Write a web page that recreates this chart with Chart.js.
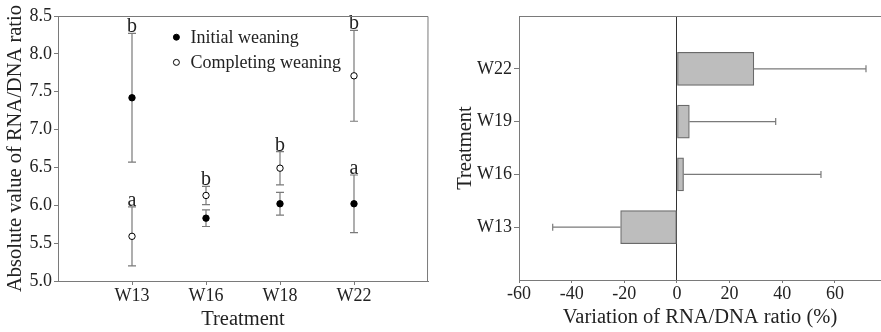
<!DOCTYPE html>
<html>
<head>
<meta charset="utf-8">
<script src="https://cdn.jsdelivr.net/npm/chart.js@4"></script>
<style>
body{margin:0;background:#fff;}
#wrap{position:relative;width:881px;height:332px;}
#graficoAbs{position:absolute;left:0;top:0;}
#graficoVar{position:absolute;left:440px;top:0;}
</style>
</head>
<body>
<div id="wrap">
<canvas id="graficoAbs" width="440" height="332"></canvas>
<canvas id="graficoVar" width="441" height="332"></canvas>
</div>
<script>
// left panel: absolute RNA/DNA ratio
const semanas = ['W13', 'W16', 'W18', 'W22'];
const inicial = [7.42, 5.83, 6.02, 6.02];
const inicialErr = [0.85, 0.11, 0.15, 0.38];
const completo = [5.59, 6.13, 6.49, 7.71];
const completoErr = [0.39, 0.12, 0.22, 0.60];
const letrasInicial = ['b', '', '', 'a'];
const letrasCompleto = ['a', 'b', 'b', 'b'];

// right panel: variation (%)
const semanasVar = ['W13', 'W16', 'W19', 'W22'];
const variacion = [-21.4, 2.5, 4.7, 29.2];
const variacionErr = [25.8, 52.2, 32.8, 42.6];
const ticksVar = [-60, -40, -20, 0, 20, 40, 60];

Chart.defaults.font.family = '"Liberation Serif", "Times New Roman", serif';
Chart.defaults.color = '#222';
Chart.defaults.animation = false;

const gris = '#7a7a7a';

const marco = {
    id: 'marco',
    afterDraw(chart, args, opts){
        const {ctx, chartArea: a} = chart;
        ctx.save();
        ctx.strokeStyle = gris;
        ctx.lineWidth = 1;
        ctx.beginPath();
        ctx.moveTo(a.left, a.top + 0.5);
        ctx.lineTo(a.right, a.top + 0.5);
        if (opts.derecha) {
            ctx.lineTo(a.right - 0.5, a.bottom);
        }
        ctx.stroke();
        ctx.restore();
    }
};

const barrasError = {
    id: 'barrasError',
    beforeDatasetsDraw(chart){
        const {ctx, scales:{x, y}} = chart;
        ctx.save();
        ctx.strokeStyle = gris;
        ctx.lineWidth = 1.2;
        chart.data.datasets.forEach(ds => {
            ds.data.forEach((p, i) => {
                const px = x.getPixelForValue(p.x);
                const arriba = y.getPixelForValue(p.y + ds.err[i]);
                const abajo = y.getPixelForValue(p.y - ds.err[i]);
                ctx.beginPath();
                ctx.moveTo(px, arriba); ctx.lineTo(px, abajo);
                ctx.moveTo(px - 4, arriba); ctx.lineTo(px + 4, arriba);
                ctx.moveTo(px - 4, abajo); ctx.lineTo(px + 4, abajo);
                ctx.stroke();
            });
        });
        ctx.restore();
    },
    afterDatasetsDraw(chart){
        const {ctx, scales:{x, y}} = chart;
        ctx.save();
        ctx.fillStyle = '#222';
        ctx.font = '20px "Liberation Serif", serif';
        ctx.textAlign = 'center';
        ctx.textBaseline = 'alphabetic';
        chart.data.datasets.forEach(ds => {
            ds.data.forEach((p, i) => {
                if (!ds.letras[i]) return;
                ctx.fillText(ds.letras[i], x.getPixelForValue(p.x), y.getPixelForValue(p.y + ds.err[i]) - 1);
            });
        });
        ctx.restore();
    }
};

const leyenda = {
    id: 'leyenda',
    afterDraw(chart){
        const {ctx, chartArea: a} = chart;
        ctx.save();
        ctx.font = '18px "Liberation Serif", serif';
        ctx.textBaseline = 'middle';
        ctx.fillStyle = '#222';
        chart.data.datasets.forEach((ds, i) => {
            const mx = a.left + a.width * 0.32;
            const my = a.top + a.height * (0.08 + i * 0.095);
            ctx.beginPath();
            ctx.arc(mx, my, 3, 0, Math.PI * 2);
            ctx.fillStyle = ds.backgroundColor;
            ctx.fill();
            ctx.strokeStyle = ds.borderColor;
            ctx.lineWidth = 1;
            ctx.stroke();
            ctx.fillStyle = '#222';
            ctx.fillText(ds.label, mx + 14, my + 1);
        });
        ctx.restore();
    }
};

const ctxAbs = document.getElementById('graficoAbs');
new Chart(ctxAbs, {
    type: 'scatter',
    data: {
        datasets: [{
            label: 'Initial weaning',
            data: inicial.map((v, i) => ({x: i + 1, y: v})),
            err: inicialErr,
            letras: letrasInicial,
            backgroundColor: '#000',
            borderColor: '#000',
            pointRadius: 3.2,
            borderWidth: 1
        }, {
            label: 'Completing weaning',
            data: completo.map((v, i) => ({x: i + 1, y: v})),
            err: completoErr,
            letras: letrasCompleto,
            backgroundColor: '#fff',
            borderColor: '#000',
            pointRadius: 3.2,
            borderWidth: 1
        }]
    },
    options: {
        responsive: false,
        events: [],
        layout: {padding: {top: 16, right: 12, left: 0, bottom: 0}},
        plugins: {
            legend: {display: false},
            tooltip: {enabled: false},
            marco: {derecha: true}
        },
        scales: {
            x: {
                type: 'linear',
                min: 0, max: semanas.length + 1,
                afterBuildTicks: s => { s.ticks = semanas.map((c, i) => ({value: i + 1})); },
                afterFit: s => { s.height = 51; },
                ticks: {
                    callback: v => semanas[v - 1],
                    font: {size: 18},
                    padding: 0,
                    maxRotation: 0
                },
                grid: {drawOnChartArea: false, tickLength: 4, tickColor: gris},
                border: {color: gris, width: 1},
                title: {display: true, text: 'Treatment', font: {size: 20.5}, padding: {top: 0, bottom: 0}}
            },
            y: {
                min: 5, max: 8.5,
                afterFit: s => { s.width = 58; },
                ticks: {
                    stepSize: 0.5,
                    callback: v => v.toFixed(1),
                    font: {size: 18},
                    padding: 2
                },
                grid: {drawOnChartArea: false, tickLength: 4, tickColor: gris},
                border: {color: gris, width: 1},
                title: {display: true, text: 'Absolute value of RNA/DNA ratio', font: {size: 20.5}, padding: {top: 3, bottom: 0}}
            }
        }
    },
    plugins: [barrasError, leyenda, marco]
});

const barrasErrorH = {
    id: 'barrasErrorH',
    afterDatasetsDraw(chart){
        const {ctx, scales:{x, y}} = chart;
        ctx.save();
        ctx.strokeStyle = gris;
        ctx.lineWidth = 1.2;
        chart.data.datasets.forEach(ds => {
            ds.data.forEach((p, i) => {
                const py = y.getPixelForValue(p.y);
                const desde = x.getPixelForValue(p.x);
                const fin = x.getPixelForValue(p.x + Math.sign(p.x) * ds.err[i]);
                ctx.beginPath();
                ctx.moveTo(desde, py); ctx.lineTo(fin, py);
                ctx.moveTo(fin, py - 3.5); ctx.lineTo(fin, py + 3.5);
                ctx.stroke();
            });
        });
        ctx.restore();
    }
};

const ctxVar = document.getElementById('graficoVar');
new Chart(ctxVar, {
    type: 'bar',
    data: {
        datasets: [{
            label: 'Variation',
            data: variacion.map((v, i) => ({x: v, y: i + 1})),
            err: variacionErr,
            backgroundColor: '#bdbdbd',
            borderColor: '#6a6a6a',
            borderWidth: 1.2,
            borderSkipped: false,
            barThickness: 33
        }]
    },
    options: {
        indexAxis: 'y',
        responsive: false,
        events: [],
        layout: {padding: {top: 16, right: 0, left: 0, bottom: 0}},
        plugins: {
            legend: {display: false},
            tooltip: {enabled: false},
            marco: {derecha: false}
        },
        scales: {
            x: {
                type: 'linear',
                min: -60, max: 77.5,
                afterBuildTicks: s => { s.ticks = ticksVar.map(v => ({value: v})); },
                afterFit: s => { s.height = 52; },
                ticks: {font: {size: 18}, padding: 0, maxRotation: 0},
                grid: {
                    drawOnChartArea: true,
                    color: c => (c.tick && c.tick.value === 0) ? '#333' : 'transparent',
                    tickLength: 3,
                    tickColor: gris
                },
                border: {color: gris, width: 1},
                title: {display: true, text: 'Variation of RNA/DNA ratio (%)', font: {size: 20.5}, padding: {top: 0, bottom: 2}}
            },
            y: {
                type: 'linear',
                offset: false,
                min: 0, max: semanasVar.length + 1,
                afterBuildTicks: s => { s.ticks = semanasVar.map((c, i) => ({value: i + 1})); },
                afterFit: s => { s.width = 79; },
                ticks: {callback: v => semanasVar[v - 1], font: {size: 18}, padding: 2},
                grid: {offset: false, drawOnChartArea: false, tickLength: 5, tickColor: gris},
                border: {color: gris, width: 1},
                title: {display: true, text: 'Treatment', font: {size: 20.5}, padding: {top: 13, bottom: 0}}
            }
        }
    },
    plugins: [barrasErrorH, marco]
});
</script>
</body>
</html>
